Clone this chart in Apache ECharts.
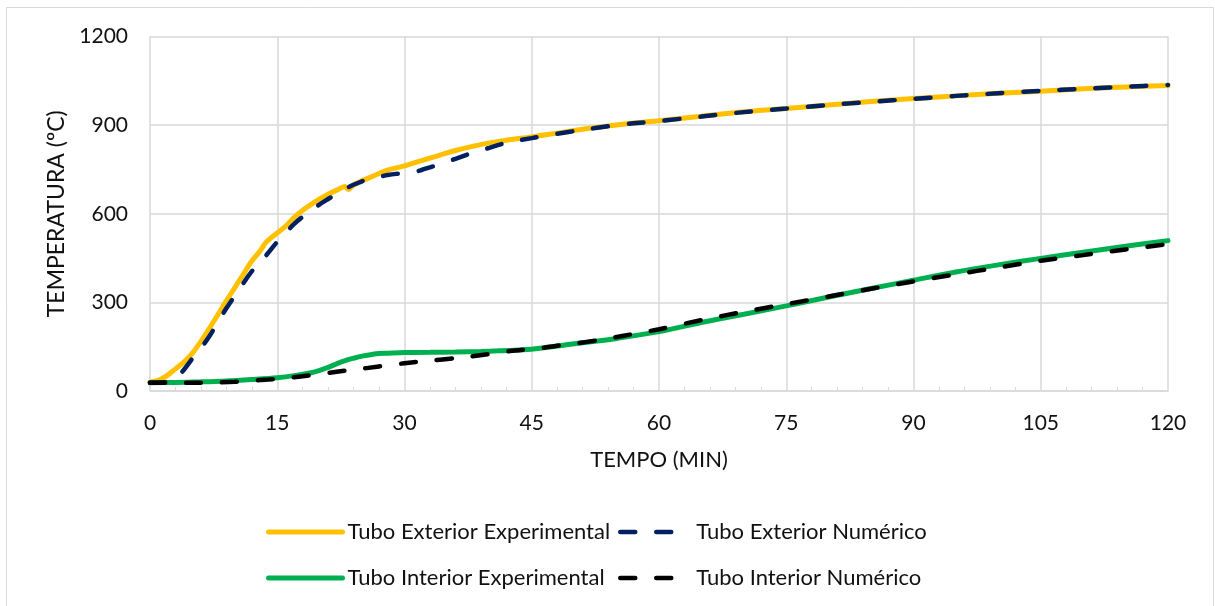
<!DOCTYPE html>
<html>
<head>
<meta charset="utf-8">
<script src="https://cdn.jsdelivr.net/npm/echarts@6/dist/echarts.min.js"></script>
<style>
  html, body { margin: 0; padding: 0; background: #fff; }
  #chart { width: 1215px; height: 606px; }
</style>
</head>
<body>
<div id="chart"></div>
<script>
// tiempos (min) y temperaturas (ºC)
var tExtExp = [0, 1, 2, 3, 4, 5, 6, 7, 8, 9, 10, 11, 12, 13, 13.7, 15, 16, 17, 18, 19, 20, 21, 22, 23, 23.4, 24, 26, 28, 30, 32, 34, 36, 38, 40, 42, 45, 48, 51, 54, 57, 60, 65, 70, 75, 80, 85, 90, 95, 100, 105, 110, 115, 120];
var yExtExp = [30, 36, 52, 75, 98, 128, 168, 212, 258, 305, 350, 395, 440, 475, 504, 535, 558, 588, 612, 632, 650, 666, 680, 692, 682, 698, 724, 748, 762, 780, 797, 814, 828, 840, 849, 860, 873, 886, 897, 907, 915, 930, 945, 956, 968, 980, 990, 999, 1008, 1015, 1023, 1029, 1034];

var tExtNum = [0, 2, 3, 4, 5, 6, 7, 8, 9, 10, 11, 12, 13, 14, 15, 16, 17, 18, 19, 20, 21, 22, 23, 24, 25, 26, 27, 28, 29, 30, 31, 32, 33, 34, 36, 38, 40, 42, 45, 48, 51, 54, 57, 60, 65, 70, 75, 80, 85, 90, 95, 100, 105, 110, 115, 120];
var yExtNum = [28, 30, 42, 72, 110, 145, 185, 232, 280, 322, 365, 405, 435, 470, 505, 535, 566, 590, 610, 632, 650, 667, 684, 698, 710, 718, 725, 731, 735, 737, 740, 748, 757, 766, 786, 806, 823, 840, 856, 871, 884, 896, 906, 914, 929, 944, 956, 968, 979, 989, 999, 1008, 1016, 1023, 1030, 1036];

var tIntExp = [0, 3, 6, 9, 12, 15, 17, 19, 20, 21, 22, 23, 24, 25, 26, 27, 28, 30, 33, 36, 39, 41, 44, 46, 48, 50, 53, 55, 60, 65, 70, 75, 80, 85, 90, 95, 100, 105, 110, 115, 120];
var yIntExp = [28, 29, 31, 34, 39, 45, 52, 62, 70, 80, 92, 103, 111, 118, 123, 127, 128, 130, 131, 132, 134, 136, 140, 145, 152, 160, 170, 178, 201, 232, 260, 288, 318, 347, 375, 403, 427, 449, 470, 490, 509];

var tIntNum = [0, 5, 8, 10, 12, 14, 16, 18, 20, 22, 24, 27, 30, 33, 36, 40, 43, 46, 48, 50, 53, 56, 60, 65, 70, 75, 80, 85, 90, 95, 100, 105, 110, 115, 120];
var yIntNum = [28, 28, 29, 31, 35, 39, 44, 50, 57, 65, 72, 83, 94, 103, 111, 125, 137, 145, 153, 160, 173, 188, 209, 240, 268, 294, 320, 346, 371, 395, 418, 441, 460, 479, 497];

var nombres = ['Tubo Exterior Experimental', 'Tubo Exterior Numérico', 'Tubo Interior Experimental', 'Tubo Interior Numérico'];
var colores = ['#FFC000', '#002060', '#00B050', '#000000'];

function pares(t, y) {
	var out = [];
	for (var i = 0; i < t.length; i++) {
		out.push([t[i], y[i]]);
	}
	return out;
}

var fuente = 'Lato';
var colorTexto = '#111';
var dash = [15, 21];

function estiloLinea(i, discontinua) {
	return discontinua
		? { color: colores[i], width: 4.5, type: dash, cap: 'round' }
		: { color: colores[i], width: 5, cap: 'round' };
}

function serie(i, t, y, discontinua) {
	return {
		name: nombres[i],
		type: 'line',
		showSymbol: false,
		symbol: 'none',
		smooth: 0.3,
		data: pares(t, y),
		lineStyle: estiloLinea(i, discontinua),
		itemStyle: { color: colores[i] },
		z: discontinua ? 3 : 2
	};
}

function leyenda(i, left, top, ancho, discontinua) {
	return {
		orient: 'horizontal',
		data: [nombres[i]],
		left: left,
		top: top,
		itemWidth: ancho,
		itemHeight: 14,
		lineStyle: estiloLinea(i, discontinua),
		itemStyle: { color: 'rgba(0,0,0,0)', opacity: 0, borderWidth: 0 },
		textStyle: {
			fontFamily: fuente,
			fontSize: 22,
			color: colorTexto,
			padding: discontinua ? [0, 0, 0, 11] : 0
		},
		selectedMode: false
	};
}

var option = {
	animation: false,
	backgroundColor: '#fff',
	graphic: [{
		type: 'rect',
		shape: { x: 6.5, y: 7.5, width: 1207, height: 610 },
		style: { fill: 'none', stroke: '#d9d9d9', lineWidth: 1 },
		silent: true
	}],
	grid: {
		left: 150,
		top: 36.5,
		right: 47,
		bottom: 215
	},
	legend: [
		leyenda(0, 261, 516, 74, false),
		leyenda(1, 613, 516, 60, true),
		leyenda(2, 261, 562, 74, false),
		leyenda(3, 613, 562, 60, true)
	],
	xAxis: {
		type: 'value',
		min: 0,
		max: 120,
		interval: 15,
		name: 'TEMPO (MIN)',
		nameLocation: 'middle',
		nameGap: 58,
		nameTextStyle: { fontFamily: fuente, fontSize: 22, color: colorTexto },
		axisLine: { show: true, lineStyle: { color: '#d9d9d9', width: 1.5 } },
		axisTick: { show: false, inside: true },
		minorTick: { show: true, splitNumber: 5, length: 4, lineStyle: { color: '#d9d9d9', width: 1 } },
		axisLabel: { fontFamily: fuente, fontSize: 21, color: colorTexto, margin: 22 },
		splitLine: { show: true, lineStyle: { color: '#d9d9d9', width: 1.5 } }
	},
	yAxis: {
		type: 'value',
		min: 0,
		max: 1200,
		interval: 300,
		name: 'TEMPERATURA (ºC)',
		nameLocation: 'middle',
		nameGap: 79,
		nameTextStyle: { fontFamily: fuente, fontSize: 23, color: colorTexto },
		axisLine: { show: false },
		axisTick: { show: false },
		axisLabel: {
			fontFamily: fuente, fontSize: 21, color: colorTexto, margin: 22,
			formatter: function (v) { return String(v); }
		},
		splitLine: { show: true, lineStyle: { color: '#d9d9d9', width: 1.5 } }
	},
	series: [
		serie(0, tExtExp, yExtExp, false),
		serie(2, tIntExp, yIntExp, false),
		serie(1, tExtNum, yExtNum, true),
		serie(3, tIntNum, yIntNum, true)
	]
};

var chart = echarts.init(document.getElementById('chart'));
chart.setOption(option);
</script>
</body>
</html>
